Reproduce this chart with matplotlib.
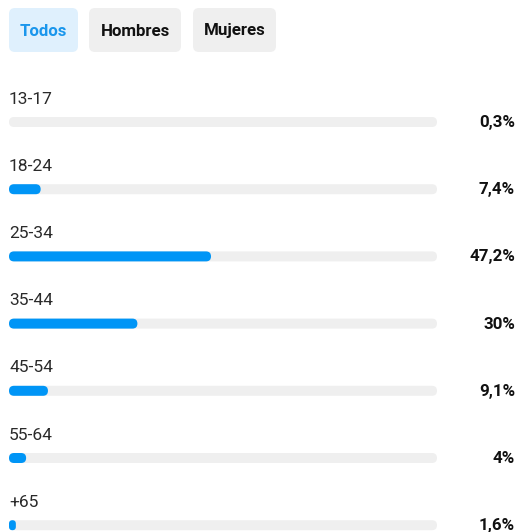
import matplotlib.pyplot as plt
from matplotlib.patches import FancyBboxPatch

plt.rcParams['font.family'] = ['Roboto', 'DejaVu Sans']

# data
ages = ['13-17', '18-24', '25-34', '35-44', '45-54', '55-64', '+65']
values = [0.3, 7.4, 47.2, 30, 9.1, 4, 1.6]
value_labels = ['0,3%', '7,4%', '47,2%', '30%', '9,1%', '4%', '1,6%']
tabs = ['Todos', 'Hombres', 'Mujeres']

BLUE = '#0095f6'
TRACK = '#efefef'

fig = plt.figure(figsize=(5.18, 5.32), dpi=100)
ax = fig.add_axes([0, 0, 1, 1])
ax.set_xlim(0, 518)
ax.set_ylim(532, 0)
ax.axis('off')

# tab buttons
tab_x = [(9, 78), (89, 181), (193, 276)]
for i, (name, (x0, x1)) in enumerate(zip(tabs, tab_x)):
    active = i == 0
    ax.add_patch(FancyBboxPatch((x0, 8), x1 - x0, 44,
                                boxstyle='round,pad=0,rounding_size=6',
                                fc='#dff0fd' if active else TRACK, ec='none'))
    ax.text((x0 + x1) / 2, 31, name, ha='center', va='center',
            fontsize=12.2, fontweight='bold',
            color='#1a96ec' if active else '#111111')

# bars
bar_x0, bar_x1 = 9, 437
bar_w = bar_x1 - bar_x0
bar_h = 10
row0, step = 122, 67.2
for i, (age, v, lab) in enumerate(zip(ages, values, value_labels)):
    yc = row0 + i * step
    track = FancyBboxPatch((bar_x0, yc - bar_h / 2), bar_w, bar_h,
                           boxstyle='round,pad=0,rounding_size=5',
                           fc=TRACK, ec='none')
    ax.add_patch(track)
    w = bar_w * v / 100
    if w >= 2:
        r = min(5, w / 2)
        fill = FancyBboxPatch((bar_x0, yc - bar_h / 2), w, bar_h,
                              boxstyle=f'round,pad=0,rounding_size={r}',
                              fc=BLUE, ec='none')
        ax.add_patch(fill)
    ax.text(bar_x0, yc - 23, age, ha='left', va='center',
            fontsize=12.5, color='#2a2a2a')
    ax.text(515, yc + 0.5, lab, ha='right', va='center',
            fontsize=12.2, fontweight='bold', color='#111111')

fig.savefig('out.png', dpi=100, facecolor='white')
